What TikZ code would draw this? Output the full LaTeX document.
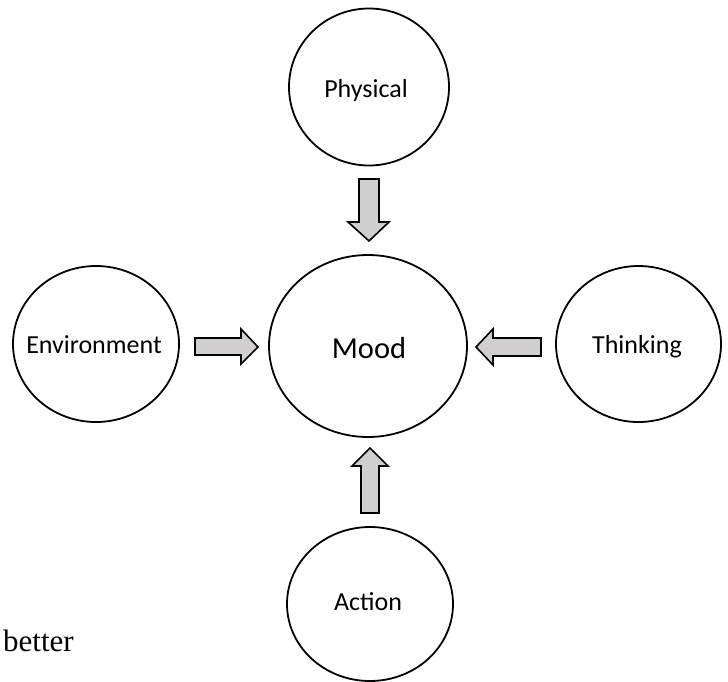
\documentclass[tikz,border=0pt]{standalone}
\usetikzlibrary{shapes.geometric}
\usepackage{fontspec}
\setmainfont{Carlito}
\newfontfamily\serifbody{Liberation Serif}
\definecolor{arrowgray}{RGB}{208,206,206}
\begin{document}
\begin{tikzpicture}[x=1pt,y=-1pt,
  bub/.style={ellipse, draw=black, line width=1.8pt, inner sep=0pt},
  lbl/.style={anchor=base, font=\fontsize{26}{30}\selectfont},
  blockarrow/.style={draw=black, fill=arrowgray, line width=1.6pt, line join=miter}]
\useasboundingbox (0,0) rectangle (728,681);
% circles
\node[bub, minimum width=160pt, minimum height=157pt] (phys) at (369,87) {};
\node[bub, minimum width=166pt, minimum height=156pt] (env) at (96,344) {};
\node[bub, minimum width=165pt, minimum height=156pt] (think) at (638.5,344) {};
\node[bub, minimum width=198pt, minimum height=182pt] (mood) at (368,346) {};
\node[bub, minimum width=166pt, minimum height=154pt] (act) at (370,604) {};
% labels
\node[lbl] (physl) at (366,97) {Physical};
\node[lbl] (envl) at (94,353) {Environment};
\node[lbl] (thinkl) at (637,353) {Thinking};
\node[lbl, font=\fontsize{30.5}{34}\selectfont] (moodl) at (369,358) {Mood};
\node[lbl] (actl) at (368,610) {Action};
\node[anchor=base west, inner sep=0pt, font=\serifbody\fontsize{31}{35}\selectfont] (better) at (3,651) {better};
% block arrows
\draw[blockarrow] (359,179) -- (379,179) -- (379,222) -- (389,222) -- (369,241) -- (348,222) -- (359,222) -- cycle;
\draw[blockarrow] (361,513) -- (379,513) -- (379,466) -- (388,466) -- (370,448) -- (352,466) -- (361,466) -- cycle;
\draw[blockarrow] (195,338) -- (241,338) -- (241,329) -- (258,347) -- (241,364) -- (241,355) -- (195,355) -- cycle;
\draw[blockarrow] (541,338) -- (493,338) -- (493,329) -- (476,347) -- (493,365) -- (493,356) -- (541,356) -- cycle;
\end{tikzpicture}
\end{document}
